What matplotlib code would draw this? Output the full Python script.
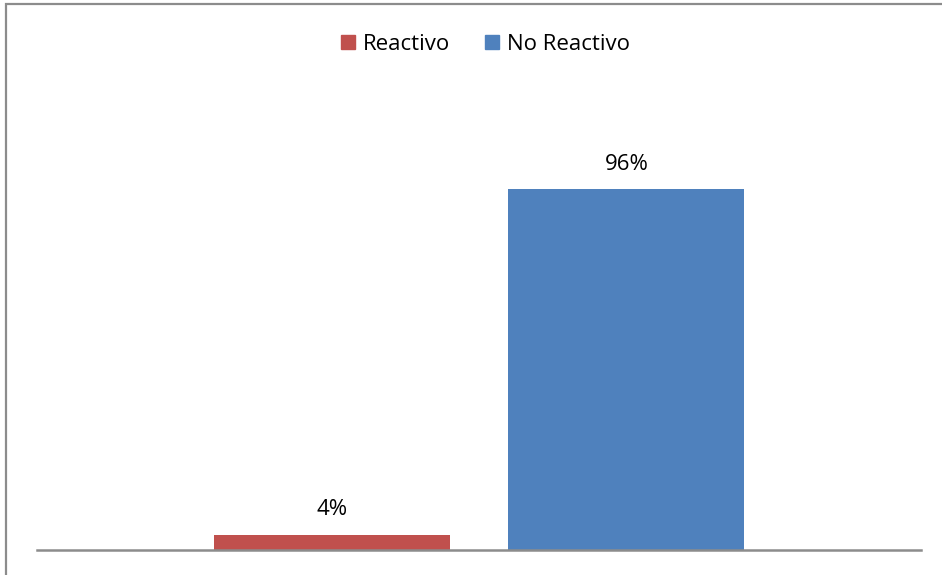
import matplotlib.pyplot as plt
from matplotlib.patches import Rectangle, Patch

# data
categories = ["Reactivo", "No Reactivo"]
values = [4, 96]
labels = ["4%", "96%"]
colors = ["#C0504D", "#4F81BD"]

plt.rcParams["font.family"] = ["Open Sans", "DejaVu Sans"]

W, H = 942, 575
fig = plt.figure(figsize=(W / 100, H / 100), dpi=100)

# outer chart frame (only top and left edges fall inside the picture)
fig.patches.append(Rectangle((6 / W, -0.1), 1.2, 1 - 4 / H + 0.1,
                             transform=fig.transFigure, fill=False,
                             edgecolor="#8C8C8C", linewidth=1.6))

ax = fig.add_axes([37 / W, (H - 550) / H, (921 - 37) / W, 376 / H])
x = range(len(categories))
ax.bar(x, values, width=0.8, color=colors)
ax.set_xlim(-1, 2)
ax.set_ylim(0, 100)

for xi, v, lab in zip(x, values, labels):
    ax.annotate(lab, (xi, v), xytext=(0, 18), textcoords="offset points",
                ha="center", va="center", fontsize=16)

for s in ["top", "right", "left"]:
    ax.spines[s].set_visible(False)
ax.spines["bottom"].set_color("#8C8C8C")
ax.spines["bottom"].set_linewidth(1.8)
ax.set_xticks([])
ax.set_yticks([])

handles = [Patch(color=c, label=n) for c, n in zip(colors, categories)]
fig.legend(handles=handles, loc="center", bbox_to_anchor=(485.5 / W, 1 - 44 / H),
           ncol=2, frameon=False, fontsize=16, handlelength=0.6,
           handleheight=0.6, handletextpad=0.35, columnspacing=1.6)

fig.savefig("out.png", dpi=100)
